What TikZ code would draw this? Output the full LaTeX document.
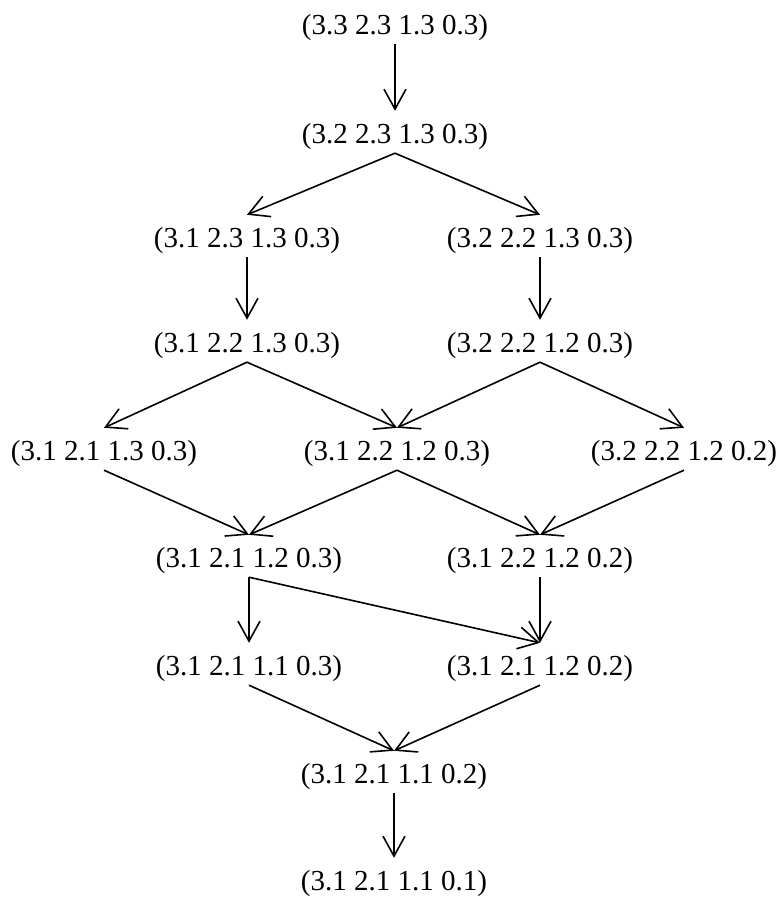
\documentclass[tikz,border=0pt]{standalone}
\usepackage{fontspec}
\setmainfont{Liberation Serif}
\usetikzlibrary{arrows.meta}
\begin{document}
\begin{tikzpicture}[x=1pt,y=-1pt,
  lbl/.style={anchor=base,inner sep=0pt,text height=32pt,text depth=10pt,font=\fontsize{29}{35}\selectfont},
  edge/.style={line width=1.6pt,-{Straight Barb[length=20pt,width=22pt,line width=1.6pt]}}]
\useasboundingbox (0,0) rectangle (779,903);
\node[lbl] (n1) at (395,34) {(3.3 2.3 1.3 0.3)};
\node[lbl] (n2) at (395,143) {(3.2 2.3 1.3 0.3)};
\node[lbl] (n3a) at (247,247) {(3.1 2.3 1.3 0.3)};
\node[lbl] (n3b) at (540,247) {(3.2 2.2 1.3 0.3)};
\node[lbl] (n4a) at (247,352) {(3.1 2.2 1.3 0.3)};
\node[lbl] (n4b) at (540,352) {(3.2 2.2 1.2 0.3)};
\node[lbl] (n5a) at (104,460) {(3.1 2.1 1.3 0.3)};
\node[lbl] (n5b) at (397,460) {(3.1 2.2 1.2 0.3)};
\node[lbl] (n5c) at (684,460) {(3.2 2.2 1.2 0.2)};
\node[lbl] (n6a) at (249,567) {(3.1 2.1 1.2 0.3)};
\node[lbl] (n6b) at (540,567) {(3.1 2.2 1.2 0.2)};
\node[lbl] (n7a) at (249,675) {(3.1 2.1 1.1 0.3)};
\node[lbl] (n7b) at (540,675) {(3.1 2.1 1.2 0.2)};
\node[lbl] (n8) at (394,783) {(3.1 2.1 1.1 0.2)};
\node[lbl] (n9) at (394,890) {(3.1 2.1 1.1 0.1)};
\draw[edge] (n1.south) -- (n2.north);
\draw[edge] (n2.south) -- (n3a.north);
\draw[edge] (n2.south) -- (n3b.north);
\draw[edge] (n3a.south) -- (n4a.north);
\draw[edge] (n3b.south) -- (n4b.north);
\draw[edge] (n4a.south) -- (n5a.north);
\draw[edge] (n4a.south) -- (n5b.north);
\draw[edge] (n4b.south) -- (n5b.north);
\draw[edge] (n4b.south) -- (n5c.north);
\draw[edge] (n5a.south) -- (n6a.north);
\draw[edge] (n5b.south) -- (n6a.north);
\draw[edge] (n5b.south) -- (n6b.north);
\draw[edge] (n5c.south) -- (n6b.north);
\draw[edge] (n6a.south) -- (n7a.north);
\draw[edge] (n6a.south) -- (n7b.north);
\draw[edge] (n6b.south) -- (n7b.north);
\draw[edge] (n7a.south) -- (n8.north);
\draw[edge] (n7b.south) -- (n8.north);
\draw[edge] (n8.south) -- (n9.north);
\end{tikzpicture}
\end{document}
